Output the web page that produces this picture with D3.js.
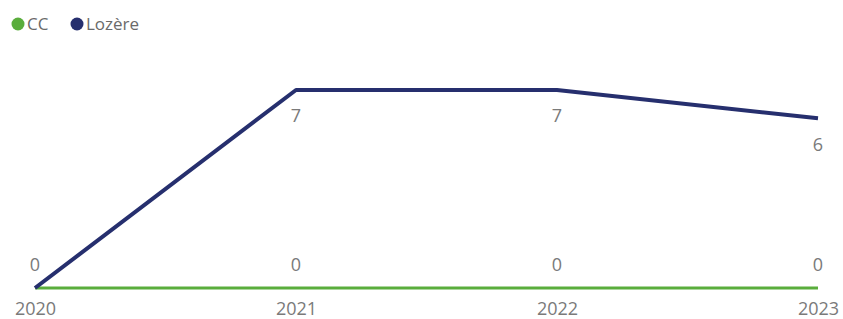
<!DOCTYPE html>
<html>
<head>
<meta charset="utf-8">
<script src="https://cdn.jsdelivr.net/npm/d3@7"></script>
<style>
  body { margin: 0; background: #fff; }
  text { font-family: "Segoe UI", "Open Sans", "Noto Sans", sans-serif; }
</style>
</head>
<body>
<div id="chart"></div>
<script>
var years = ["2020", "2021", "2022", "2023"];
var seriesNames = ["CC", "Lozère"];
var ccValues = [0, 0, 0, 0];
var lozereValues = [0, 7, 7, 6];
var colors = ["#5aad3c", "#262f6e"];

var width = 843, height = 319;

var svg = d3.select("#chart")
    .append("svg")
    .attr("width", width)
    .attr("height", height);

var x = d3.scalePoint()
    .domain(years)
    .range([35, 818]);

var y = d3.scaleLinear()
    .domain([0, 7])
    .range([288, 90]);

// x axis labels
svg.append("g")
    .attr("transform", "translate(0,309)")
    .call(d3.axisBottom(x).tickSize(0).tickPadding(0))
    .call(g => g.select(".domain").remove())
    .selectAll("text")
    .attr("dy", "0.35em")
    .style("font-size", "18px")
    .style("fill", "#7a7a7a");

var series = [
    { name: seriesNames[0], values: ccValues, color: colors[0] },
    { name: seriesNames[1], values: lozereValues, color: colors[1] }
];

var line = d3.line()
    .x(function (d, i) { return x(years[i]); })
    .y(function (d) { return y(d); });

svg.selectAll(".serie")
    .data(series)
    .enter()
    .append("path")
    .attr("class", "serie")
    .attr("d", function (d) { return line(d.values); })
    .attr("fill", "none")
    .attr("stroke", function (d) { return d.color; })
    .attr("stroke-width", function (d, i) { return i === 0 ? 3 : 4; })
    .attr("stroke-linejoin", "round");

// data labels: zeros (shared by both series) above, the rest below the point
var labels = [];
series.forEach(function (s) {
    s.values.forEach(function (v, i) {
        if (s.name === "CC" || v !== 0) labels.push({ year: years[i], value: v });
    });
});

svg.selectAll(".label")
    .data(labels)
    .enter()
    .append("text")
    .attr("class", "label")
    .attr("x", function (d) { return x(d.year); })
    .attr("y", function (d) { return d.value === 0 ? y(d.value) - 23 : y(d.value) + 26; })
    .attr("dy", "0.35em")
    .attr("text-anchor", "middle")
    .style("font-size", "18px")
    .style("fill", "#7a7a7a")
    .text(function (d) { return d.value; });

// legend
var legend = svg.append("g");
var lx = [18, 77];
seriesNames.forEach(function (n, i) {
    legend.append("circle")
        .attr("cx", lx[i])
        .attr("cy", 24)
        .attr("r", 6.5)
        .attr("fill", colors[i]);
    legend.append("text")
        .attr("x", lx[i] + 9)
        .attr("y", 24)
        .attr("dy", "0.35em")
        .style("font-size", "17px")
        .style("fill", "#6a6a6a")
        .text(n);
});
</script>
</body>
</html>
